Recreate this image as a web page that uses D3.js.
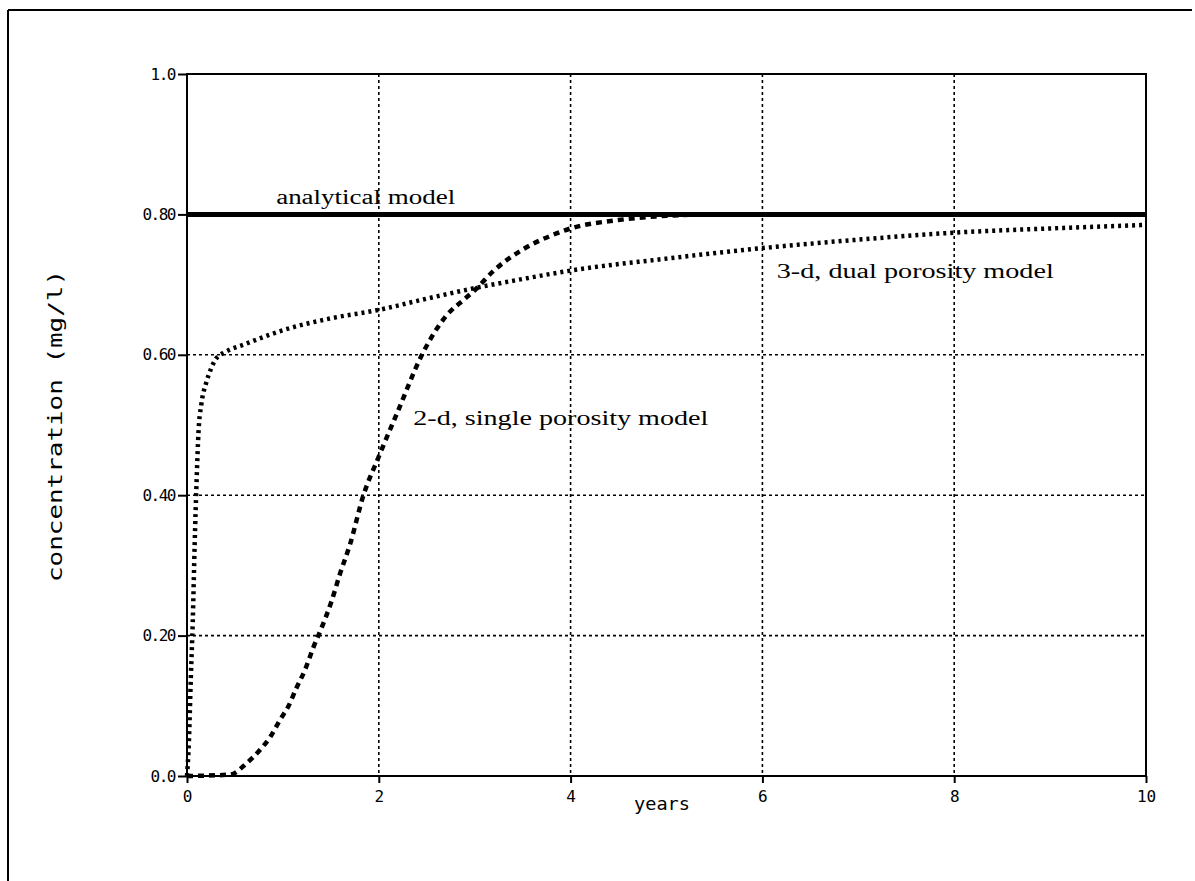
<!DOCTYPE html>
<html><head><meta charset="utf-8">
<script src="https://cdn.jsdelivr.net/npm/d3@7"></script>
<style>body{margin:0;background:#fff}svg{display:block}</style>
</head><body>
<svg id="c" width="1195" height="881"></svg>
<script>
const xTicks = [0, 2, 4, 6, 8, 10];
const yTicks = [0, 0.2, 0.4, 0.6, 0.8, 1.0];
const yTickLabels = ["0.0", "0.20", "0.40", "0.60", "0.80", "1.0"];
const analytical = [[0, 0.8], [10, 0.8]];
const dualPorosity = [[0,0],[0.02,0.05],[0.04,0.14],[0.06,0.22],[0.08,0.33],[0.1,0.42],[0.12,0.49],[0.15,0.53],[0.2,0.56],[0.25,0.58],[0.3,0.594],[0.4,0.604],[0.6,0.615],[1,0.635],[1.5,0.652],[2,0.664],[2.5,0.68],[3,0.695],[3.5,0.708],[4,0.72],[5,0.737],[6,0.752],[7,0.764],[8,0.774],[9,0.78],[10,0.785]];
const singlePorosity = [[0,0],[0.45,0.002],[0.62,0.018],[0.76,0.037],[0.87,0.056],[0.97,0.08],[1.06,0.1],[1.14,0.125],[1.23,0.151],[1.32,0.184],[1.4,0.21],[1.5,0.246],[1.6,0.29],[1.7,0.33],[1.84,0.4],[2,0.455],[2.2,0.52],[2.45,0.6],[2.7,0.655],[2.9,0.68],[3,0.692],[3.2,0.72],[3.5,0.75],[3.8,0.77],[4,0.78],[4.5,0.792],[5,0.798],[5.5,0.8],[10,0.8]];
const labels = [
  {text:"analytical model", x:0.93, y:0.815, w:179},
  {text:"3-d, dual porosity model", x:6.15, y:0.71, w:277},
  {text:"2-d, single porosity model", x:2.36, y:0.5, w:295}
];

const svg = d3.select("#c");
const L = 187, R = 1146, T = 74, B = 776;
const x = d3.scaleLinear().domain([0, 10]).range([L, R]);
const y = d3.scaleLinear().domain([0, 1]).range([B, T]);

// outer border (top + left)
svg.append("line").attr("x1", 8).attr("x2", 1192).attr("y1", 10).attr("y2", 10).attr("stroke", "#000").attr("stroke-width", 2);
svg.append("line").attr("x1", 8).attr("x2", 8).attr("y1", 10).attr("y2", 881).attr("stroke", "#000").attr("stroke-width", 2);

// grid
const grid = svg.append("g").attr("stroke", "#000").attr("stroke-width", 1.6).attr("stroke-dasharray", "3,3");
xTicks.filter(d => d > 0 && d < 10).forEach(d => grid.append("line").attr("x1", x(d)).attr("x2", x(d)).attr("y1", T).attr("y2", B));
yTicks.filter(d => d > 0 && d < 1).forEach(d => grid.append("line").attr("x1", L).attr("x2", R).attr("y1", y(d)).attr("y2", y(d)));

// axes
const xAxis = d3.axisBottom(x).tickValues(xTicks).tickSize(7).tickFormat(d3.format("d"));
const yAxis = d3.axisLeft(y).tickValues(yTicks).tickSize(9).tickFormat((d, i) => yTickLabels[i]);
const gx = svg.append("g").attr("transform", `translate(0,${B})`).call(xAxis);
const gy = svg.append("g").attr("transform", `translate(${L},0)`).call(yAxis);
[gx, gy].forEach(g => {
  g.attr("font-size", null).attr("font-family", null);
  g.select(".domain").remove();
  g.selectAll("line").attr("stroke", "#000").attr("stroke-width", 2);
  g.selectAll("text").attr("fill", "#000").style("font-family", "'DejaVu Sans Mono', monospace").style("font-size", "16px");
});
gx.selectAll("text").attr("dy", "1.0em");
gy.selectAll("text").attr("x", -12).attr("letter-spacing", -1.5);

// frame
svg.append("rect").attr("x", L).attr("y", T).attr("width", R - L).attr("height", B - T).attr("fill", "none").attr("stroke", "#000").attr("stroke-width", 2);

// series
const line = d3.line().x(d => x(d[0])).y(d => y(d[1])).curve(d3.curveMonotoneX);
svg.append("path").datum(analytical).attr("d", line).attr("fill", "none").attr("stroke", "#000").attr("stroke-width", 5);
svg.append("path").datum(dualPorosity).attr("d", line).attr("fill", "none").attr("stroke", "#000").attr("stroke-width", 4.5).attr("stroke-dasharray", "3,4");
svg.append("path").datum(singlePorosity).attr("d", line).attr("fill", "none").attr("stroke", "#000").attr("stroke-width", 4.5).attr("stroke-dasharray", "6,5");

// labels
labels.forEach(l => svg.append("text").attr("x", x(l.x)).attr("y", y(l.y)).attr("font-family", "Liberation Serif").attr("font-size", 20)
  .attr("textLength", l.w).attr("lengthAdjust", "spacingAndGlyphs").attr("fill", "#000").text(l.text));

// axis titles
svg.append("text").attr("x", 634).attr("y", 810).attr("font-family", "DejaVu Sans Mono").attr("font-size", 17).attr("textLength", 56).attr("lengthAdjust", "spacingAndGlyphs").text("years");
svg.append("text").attr("transform", "translate(62,426) rotate(-90)").attr("text-anchor", "middle").attr("font-family", "DejaVu Sans Mono").attr("font-size", 19).attr("textLength", 312).attr("lengthAdjust", "spacingAndGlyphs").text("concentration (mg/l)");
</script>
</body></html>
